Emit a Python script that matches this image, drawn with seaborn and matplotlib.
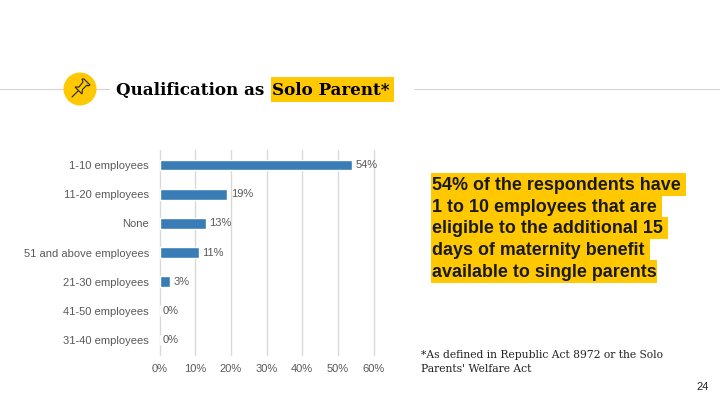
import matplotlib
matplotlib.use("Agg")
import matplotlib.pyplot as plt
from matplotlib.patches import Circle, Polygon, Rectangle
import pandas as pd
import seaborn as sns

# Chart data
categories = ['1-10 employees', '11-20 employees', 'None', '51 and above employees',
              '21-30 employees', '41-50 employees', '31-40 employees']
shares = [54, 19, 13, 11, 3, 0, 0]
x_ticks = [0, 10, 20, 30, 40, 50, 60]

callout_lines = ['54% of the respondents have', '1 to 10 employees that are',
                 'eligible to the additional 15', 'days of maternity benefit',
                 'available to single parents']
footnote_lines = ['*As defined in Republic Act 8972 or the Solo', "Parents' Welfare Act"]

W, H = 720, 405
GOLD = '#FFC800'
GREY = '#595959'

sns.set_theme(style='white')
plt.rcParams['font.family'] = ['Liberation Sans', 'DejaVu Sans']

fig = plt.figure(figsize=(W / 100, H / 100), dpi=100, facecolor='white')

# Full slide overlay in pixel coordinates for the decoration
bg = fig.add_axes([0, 0, 1, 1], zorder=0)
bg.set_xlim(0, W)
bg.set_ylim(H, 0)
bg.axis('off')

# Chart axes
left, right, top, bottom = 159.5, 373.5, 150.4, 354.6
ax = fig.add_axes([left / W, 1 - bottom / H, (right - left) / W, (bottom - top) / H], zorder=1)
ax.patch.set_alpha(0)

df = pd.DataFrame({'category': categories, 'share': shares})
sns.barplot(data=df, y='category', x='share', orient='h', color='#3A7DB6',
            saturation=1, width=0.37, ax=ax)
for c in ax.containers:
    ax.bar_label(c, labels=[f'{v}%' for v in shares], padding=2.5, fontsize=8, color=GREY)

ax.set_xlim(0, 60)
ax.set_xticks(x_ticks)
ax.set_xticklabels([f'{t}%' for t in x_ticks])
ax.set_xlabel('')
ax.set_ylabel('')
ax.grid(axis='x', color='#D9D9D9', lw=1, clip_on=False)
ax.set_axisbelow(True)
sns.despine(ax=ax, top=True, right=True, bottom=True, left=True)
ax.tick_params(axis='x', length=0, pad=7, labelsize=8, labelcolor=GREY)
ax.tick_params(axis='y', length=0, pad=7.5, labelsize=8, labelcolor=GREY)

# Header rules, badge and pin
for x0, x1 in [(0, 66), (94, 109), (414, 720)]:
    bg.plot([x0, x1], [89, 89], color='#D4D4D4', lw=0.8)
bg.add_patch(Circle((80, 89), 16.5, color=GOLD, lw=0, zorder=3))
bg.add_patch(Polygon([(75, 87), (79, 87), (83, 82), (82, 79), (84, 79), (90, 85),
                      (88, 86), (87, 85), (82.5, 89.5), (82, 94)],
                     closed=True, fill=False, ec='#222222', lw=0.8, zorder=4))
bg.plot([78, 72], [91, 97], color='#222222', lw=0.8, zorder=4)

# Title
bg.add_patch(Rectangle((271, 77), 123, 25, color=GOLD, lw=0))
bg.text(116, 95, 'Qualification as', family='DejaVu Serif', weight='bold',
        fontsize=12.1, color='black', va='baseline', ha='left')
bg.text(272, 95, 'Solo Parent*', family='DejaVu Serif', weight='bold',
        fontsize=12.1, color='black', va='baseline', ha='left')

# Callout with highlight per line
callout_right = [686, 662, 668, 650, 657]
for i, (line, xr) in enumerate(zip(callout_lines, callout_right)):
    y0 = 173.3 + i * 21.7
    bg.add_patch(Rectangle((431, y0), xr - 431, 22.4, color=GOLD, lw=0))
    bg.text(432, y0 + 16.5, line, weight='bold', fontsize=12.9, color='#1a1a1a',
            va='baseline', ha='left')

# Footnote and page number
for i, line in enumerate(footnote_lines):
    bg.text(421, 358 + i * 14.5, line, family='DejaVu Serif', fontsize=7.75,
            color='#222222', va='baseline', ha='left')
bg.text(703, 387, '24', fontsize=8, color='#222222', va='center', ha='center')

fig.savefig('out.png', dpi=100, facecolor='white')
